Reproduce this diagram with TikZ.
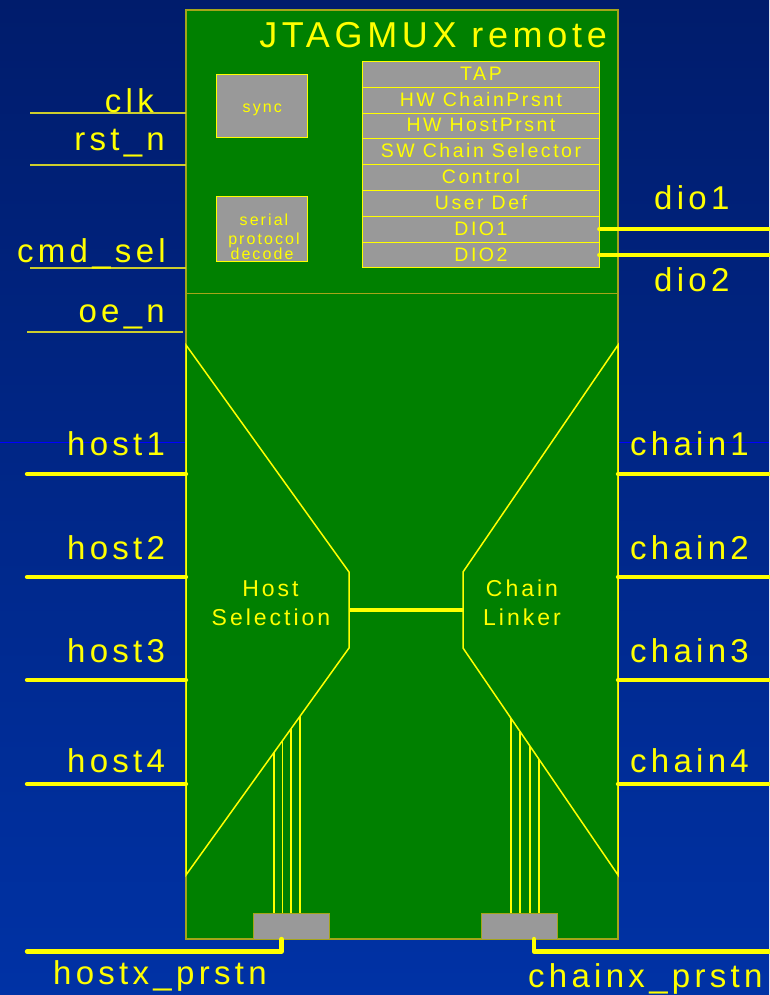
\documentclass[tikz,border=0pt]{standalone}
\usepackage{fontspec}
\setmainfont{Liberation Sans}
\newfontfamily\lsans[LetterSpace=13]{Liberation Sans}
\usetikzlibrary{calc}
\definecolor{bgtop}{RGB}{0,28,108}
\definecolor{bgbot}{RGB}{0,50,165}
\definecolor{chipgreen}{RGB}{0,128,0}
\definecolor{ylw}{RGB}{255,255,0}
\definecolor{edgec}{RGB}{165,165,25}
\definecolor{gry}{RGB}{153,153,153}
\definecolor{thinl}{RGB}{205,205,45}
\definecolor{bline}{RGB}{0,0,255}
\begin{document}
\begin{tikzpicture}[x=1pt,y=-1pt,
  lbl/.style={text=ylw, font=\lsans\fontsize{33}{36}\selectfont, inner sep=0pt},
  titletxt/.style={text=ylw, font=\lsans\fontsize{36}{40}\selectfont, inner sep=0pt},
  midtxt/.style={text=ylw, font=\lsans\fontsize{23}{26}\selectfont, inner sep=0pt},
  smalltxt/.style={text=ylw, font=\lsans\fontsize{16}{18}\selectfont, inner sep=0pt},
  reg/.style={draw=ylw, line width=1pt, fill=gry, minimum width=236.6pt, minimum height=25.8pt,
    inner sep=0pt, outer sep=0pt, text=ylw, text height=12pt, text depth=0pt,
    font=\lsans\fontsize{19.5}{21}\selectfont},
  greybox/.style={draw=ylw, line width=1pt, fill=gry, inner sep=0pt, outer sep=0pt},
  padbox/.style={draw=edgec, line width=1pt, fill=gry, inner sep=0pt, outer sep=0pt},
  bus/.style={draw=ylw, line width=4.3pt, line cap=round, line join=round},
  wire/.style={draw=thinl, line width=1.2pt},
  trap/.style={draw=ylw, line width=1.5pt},
  busline/.style={draw=ylw, line width=1.3pt}]
\useasboundingbox (0,0) rectangle (769,995);
\shade[top color=bgtop, bottom color=bgbot] (0,0) rectangle (769,995);
% stray blue line
\coordinate (bl1) at (0,442);
\coordinate (bl2) at (769,442);
\draw[bline, line width=1pt] (bl1) -- (bl2);
% chip
\node[draw=edgec, line width=1.2pt, fill=chipgreen, minimum width=432pt, minimum height=929pt,
  inner sep=0pt, outer sep=0pt] (chip) at (402,474.5) {};
\coordinate (divy) at (0,293.5);
\draw[edgec, line width=1.2pt] (chip.west |- divy) -- (chip.east |- divy);
\node[titletxt, anchor=base east] (title) at (607,48) {JTAGMUX remote};
% sync / serial
\node[greybox, minimum width=91.3pt, minimum height=63.3pt] (sync) at (262.3,106.3) {};
\node[smalltxt, anchor=base] (synct) at (262.3,112.5) {sync};
\node[greybox, minimum width=91.3pt, minimum height=65pt] (serial) at (262.3,229.2) {};
\node[smalltxt, anchor=base] (s1) at (264,225) {serial};
\node[smalltxt, anchor=base] (s2) at (264,244) {protocol};
\node[smalltxt, anchor=base] (s3) at (262,259.5) {decode};
% registers
\foreach \t [count=\i from 0] in {TAP,HW ChainPrsnt,HW HostPrsnt,SW Chain Selector,Control,User Def,DIO1,DIO2}
  \node[reg] (r\i) at (481,74.4+25.8*\i) {\t};
% dio outputs
\coordinate (dioR1) at (772,0);
\draw[bus] (r6.east) -- (r6.east -| dioR1);
\draw[bus] (r7.east) -- (r7.east -| dioR1);
\node[lbl, anchor=base west] (dio1) at (654,209) {dio1};
\node[lbl, anchor=base west] (dio2) at (654,291.5) {dio2};
% left control wires
\coordinate (clkL) at (30,113);
\coordinate (rstL) at (30,165);
\coordinate (cmdL) at (30,268);
\coordinate (oeL) at (27,332);
\coordinate (oeR) at (183,332);
\draw[wire] (clkL) -- (clkL -| chip.west);
\draw[wire] (rstL) -- (rstL -| chip.west);
\draw[wire] (cmdL) -- (cmdL -| chip.west);
\draw[wire] (oeL) -- (oeR);
\node[lbl, anchor=base east] (clk) at (154,113) {clk};
\node[lbl, anchor=base east] (rst) at (165,151) {rst\_n};
\node[lbl, anchor=base east] (cmd) at (166,262) {cmd\_sel};
\node[lbl, anchor=base east] (oe) at (165,322) {oe\_n};
% trapezoids
\coordinate (hsA) at (186,345);
\coordinate (hsB) at (349,572);
\coordinate (hsC) at (349,648);
\coordinate (hsD) at (186,875);
\coordinate (clA) at (618,345);
\coordinate (clB) at (463,572);
\coordinate (clC) at (463,648);
\coordinate (clD) at (618,875);
\draw[trap] (hsA) -- (hsB) -- (hsC) -- (hsD) -- cycle;
\draw[trap] (clA) -- (clB) -- (clC) -- (clD) -- cycle;
\coordinate (midL) at (349,610);
\coordinate (midR) at (463,610);
\draw[draw=ylw, line width=4.3pt] (midL) -- (midR);
\node[midtxt, anchor=base] (hs1) at (270.5,596) {Host};
\node[midtxt, anchor=base] (hs2) at (271,625) {Selection};
\node[midtxt, anchor=base] (cl1) at (522,596) {Chain};
\node[midtxt, anchor=base] (cl2) at (522,625) {Linker};
% host / chain buses
\foreach \n/\y/\ly in {1/474/455,2/577/559,3/680/662,4/784/772}{
  \coordinate (hL\n) at (27,\y);
  \coordinate (cR\n) at (775,\y);
  \draw[bus] (hL\n) -- (hL\n -| chip.west);
  \draw[bus] (chip.east |- cR\n) -- (cR\n);
  \node[lbl, anchor=base west] (host\n) at (67,\ly) {host\n};
  \node[lbl, anchor=base west] (chain\n) at (630,\ly) {chain\n};
}
% presence pads
\node[padbox, minimum width=76pt, minimum height=25.7pt] (lpad) at (291.3,926.2) {};
\node[padbox, minimum width=76pt, minimum height=25.7pt] (rpad) at (519.7,926.2) {};
\foreach \x/\t [count=\k] in {274/0.460,282.3/0.409,291/0.356,300/0.301}{
  \coordinate (lv\k) at ($(hsC)!\t!(hsD)$);
  \draw[busline] (lv\k) -- (lv\k |- lpad.north);
}
\foreach \x/\t [count=\k] in {511/0.310,520/0.368,530/0.432,539/0.490}{
  \coordinate (rv\k) at ($(clC)!\t!(clD)$);
  \draw[busline] (rv\k) -- (rv\k |- rpad.north);
}
\coordinate (lpo) at (281.5,939);
\coordinate (lpk) at (281.5,951.5);
\coordinate (lpe) at (27,951.5);
\draw[bus] (lpo) -- (lpk) -- (lpe);
\coordinate (rpo) at (534,939);
\coordinate (rpk) at (534,951.5);
\coordinate (rpe) at (775,951.5);
\draw[bus] (rpo) -- (rpk) -- (rpe);
\node[lbl, anchor=base west] (hostx) at (53,984) {hostx\_prstn};
\node[lbl, anchor=base west] (chainx) at (528,987) {chainx\_prstn};
\end{tikzpicture}
\end{document}
